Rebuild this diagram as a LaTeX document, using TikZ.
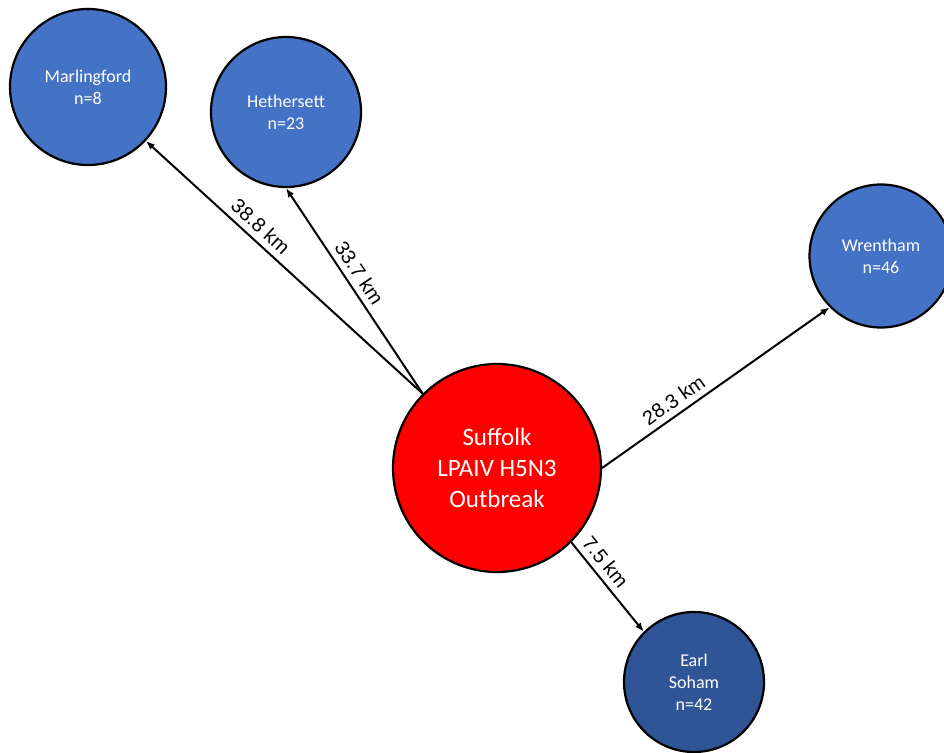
\documentclass[tikz,border=0pt]{standalone}
\usepackage{fontspec}
\setmainfont{Carlito}
\newfontfamily\labelfont{Liberation Sans}
\usepackage{xcolor}
\usetikzlibrary{arrows.meta, positioning}
\definecolor{townblue}{HTML}{4472C4}
\definecolor{darkblue}{HTML}{2F5597}

\begin{document}
\begin{tikzpicture}[x=1pt, y=1pt]
        \tikzstyle{town} = [circle, draw, line width=2.2pt, fill=townblue, text=white, inner sep=0pt, align=center, font=\fontsize{18}{22}\selectfont]
        \tikzstyle{outbreak} = [circle, draw, line width=2.2pt, fill=red, text=white, inner sep=0pt, align=center, minimum size=208pt, font=\fontsize{25}{31}\selectfont]
        \tikzstyle{line} = [draw, -{Latex[length=9pt, width=7pt]}, line width=2pt]
        \tikzstyle{dist} = [font=\labelfont\fontsize{20}{24}\selectfont, above, sloped, inner sep=6pt]

        \useasboundingbox (0,0) rectangle (944,-752);

        \node [outbreak] (suffolk) at (497,-468) {Suffolk\\LPAIV H5N3\\Outbreak};

        \node [town, minimum size=156pt] (marlingford) at (88,-87) {Marlingford\\n=8};
        \node [town, minimum size=150pt] (hethersett) at (286,-112) {Hethersett\\n=23};
        \node [town, minimum size=143pt] (wrentham) at (881,-256) {Wrentham\\n=46};
        \node [town, minimum size=140pt, fill=darkblue] (earlsoham) at (694,-682) {Earl\\Soham\\n=42};

        \path [line] (suffolk.135) -- node [dist, pos=0.62] {38.8 km} (marlingford.-43);
        \path [line] (suffolk.135) -- node [dist, pos=0.55] {33.7 km} (hethersett.south);
        \path [line] (suffolk.east) -- node [dist, pos=0.35] {28.3 km} (wrentham.south west);
        \path [line] (suffolk.south east) -- node [dist, pos=0.32] {7.5 km} (earlsoham.north west);
    \end{tikzpicture}
\end{document}
